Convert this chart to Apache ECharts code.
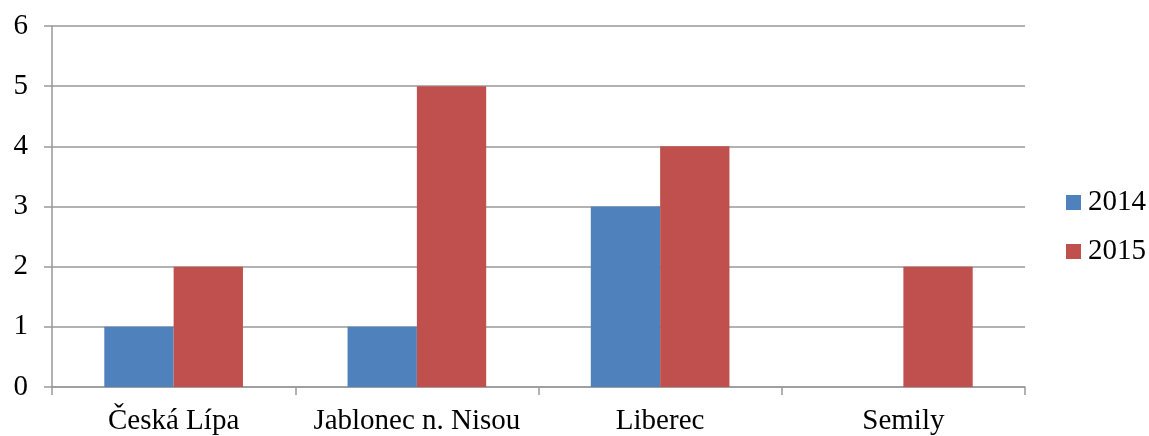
<!DOCTYPE html>
<html><head><meta charset="utf-8">
<script src="https://cdn.jsdelivr.net/npm/echarts@6/dist/echarts.min.js"></script>
<style>html,body{margin:0;padding:0;background:#fff}#c{width:1149px;height:436px}</style>
</head><body><div id="c"></div>
<script>
var categories = ['Česká Lípa', 'Jablonec n. Nisou', 'Liberec', 'Semily'];
var seriesNames = ['2014', '2015'];
var values2014 = [1, 1, 3, 0];
var values2015 = [2, 5, 4, 2];
var colors = ['#4F81BD', '#C0504D'];
var font = 'Liberation Serif';
var chart = echarts.init(document.getElementById('c'));
chart.setOption({
  animation: false,
  textStyle: {fontFamily: font, fontSize: 29},
  grid: {left: 52, right: 124, top: 26, bottom: 49, containLabel: false},
  legend: {
    orient: 'vertical', left: 1061, top: 183,
    itemWidth: 15, itemHeight: 15, itemGap: 20,
    icon: 'rect',
    textStyle: {fontFamily: font, fontSize: 29, color: '#000', padding: [0,0,0,2]},
    data: seriesNames
  },
  xAxis: {
    type: 'category', data: categories,
    axisLine: {lineStyle: {color: '#999', width: 1.5}},
    axisTick: {show: true, interval: 0, length: 8, lineStyle: {color: '#999', width: 1.5}},
    axisLabel: {interval: 0, fontFamily: font, fontSize: 29, color: '#000', margin: 20}
  },
  yAxis: {
    type: 'value', min: 0, max: 6, interval: 1,
    axisLine: {show: true, lineStyle: {color: '#999', width: 1.5}},
    axisTick: {show: true, length: 8, lineStyle: {color: '#999', width: 1.5}},
    splitLine: {lineStyle: {color: '#999', width: 1.5}},
    axisLabel: {fontFamily: font, fontSize: 29, color: '#000', margin: 24}
  },
  series: [
    {name: seriesNames[0], type: 'bar', data: values2014, itemStyle: {color: colors[0]}, barGap: '0%', barCategoryGap: '43%'},
    {name: seriesNames[1], type: 'bar', data: values2015, itemStyle: {color: colors[1]}, barGap: '0%', barCategoryGap: '43%'}
  ]
});
</script></body></html>
